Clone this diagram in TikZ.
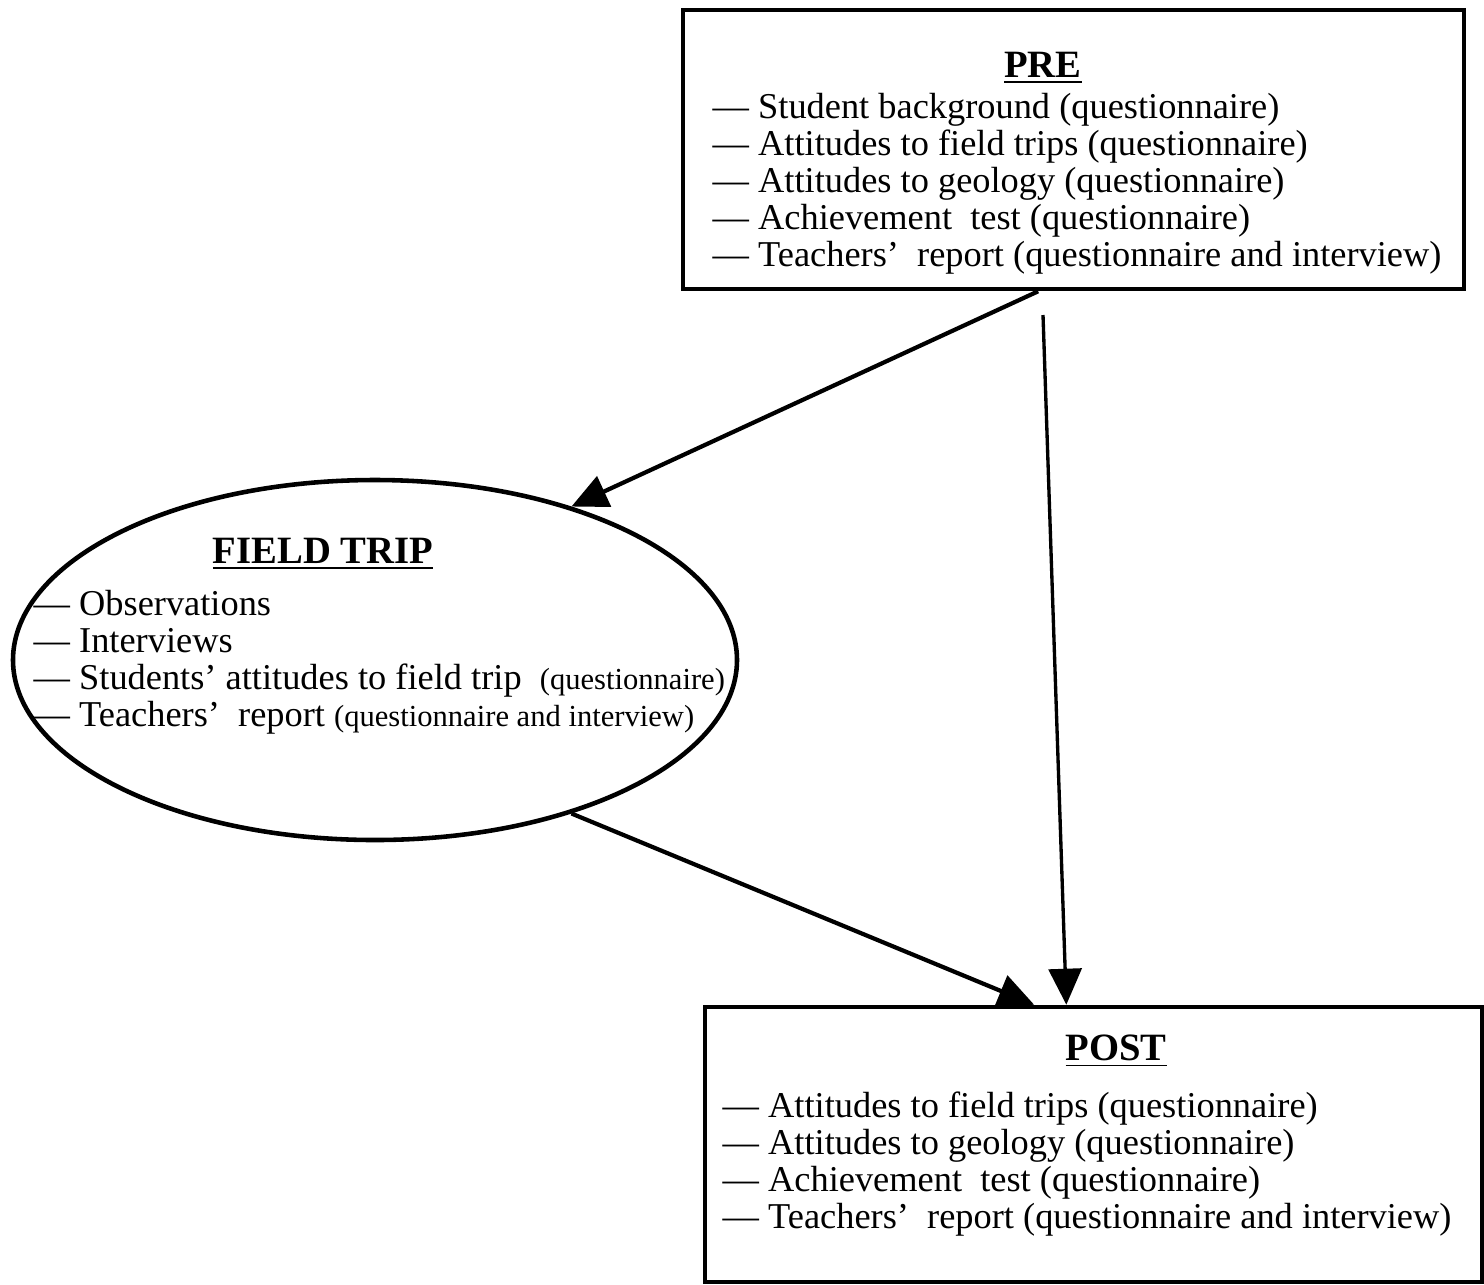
\documentclass[tikz,border=0pt]{standalone}
\usepackage{fontspec}
\setmainfont{Liberation Serif}
\usetikzlibrary{arrows.meta,calc,positioning,shapes.geometric}
\newcommand{\paren}[1]{{\fontsize{8.7}{10.5}\selectfont #1}}

\begin{document}
\begin{tikzpicture}[
  font=\fontsize{10.35}{10.5}\selectfont,
  stage/.style={draw,line width=1.3pt,minimum width=7.81cm,inner sep=0pt},
  trip/.style={ellipse,draw,line width=1.3pt,minimum width=7.24cm,minimum height=3.6cm,inner sep=0pt},
  heading/.style={anchor=base,inner sep=0pt,font=\fontsize{11}{12}\selectfont\bfseries},
  items/.style={anchor=north west,align=left,inner sep=0pt},
  arr/.style={-{Triangle[length=3.6mm,width=3.3mm]},line width=1.2pt}
]
\useasboundingbox (0,0) rectangle (14.84,-12.84);

% the three stages
\node[stage,minimum height=2.79cm] (pre) at (10.735,-1.495) {};
\node[trip] (field) at (3.75,-6.60) {};
\node[stage,minimum height=2.75cm,minimum width=7.77cm] (post) at (10.935,-11.445) {};

\node[heading] (pretitle) at (10.43,-0.77) {\underline{PRE}};
\node[items] (prelist) at (7.12,-0.93)
  {— Student background (questionnaire)\\
   — Attitudes to field trips (questionnaire)\\
   — Attitudes to geology (questionnaire)\\
   — Achievement\ \ test (questionnaire)\\
   — Teachers'\ \ report (questionnaire and interview)};

\node[heading] (fieldtitle) at (3.23,-5.63) {\underline{FIELD TRIP}};
\node[items] (fieldlist) at (0.33,-5.90)
  {— Observations\\
   — Interviews\\
   — Students' attitudes to field trip\ \ \paren{(questionnaire)}\\
   — Teachers'\ \ report \paren{(questionnaire and interview)}};

\node[heading] (posttitle) at (11.16,-10.60) {\underline{POST}};
\node[items] (postlist) at (7.22,-10.91)
  {— Attitudes to field trips (questionnaire)\\
   — Attitudes to geology (questionnaire)\\
   — Achievement\ \ test (questionnaire)\\
   — Teachers'\ \ report (questionnaire and interview)};

% connectors
\coordinate (prefoot) at (10.43,-3.15);
\draw[arr] (pre.256.5)--(field.38.6);
\draw[arr,line width=0.95pt] (prefoot)--(post.101.4);
\draw[arr] (field.-38.5)--(post.113.1);
\end{tikzpicture}
\end{document}
